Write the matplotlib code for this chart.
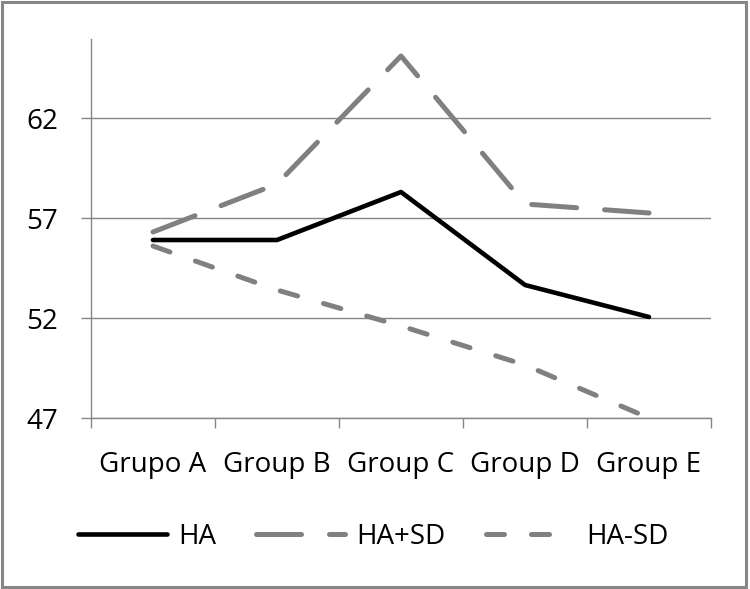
import matplotlib.pyplot as plt
from matplotlib.patches import Rectangle

groups = ["Grupo A", "Group B", "Group C", "Group D", "Group E"]
ha = [55.9, 55.9, 58.3, 53.65, 52.05]
ha_plus_sd = [56.3, 58.7, 65.1, 57.7, 57.25]
ha_minus_sd = [55.6, 53.4, 51.6, 49.65, 47.0]
y_ticks = [47, 52, 57, 62]

plt.rcParams["font.family"] = ["Open Sans", "DejaVu Sans"]

grey = "#868686"
line_grey = "#808080"

fig = plt.figure(figsize=(7.5, 5.89), dpi=100)
ax = fig.add_axes([91 / 750, 1 - 418 / 589, 620 / 750, 379 / 589])

x = list(range(len(groups)))
ax.plot(x, ha, color="black", linewidth=3.3, solid_capstyle="round",
        solid_joinstyle="round", label="HA", zorder=3)
ax.plot(x, ha_plus_sd, color=line_grey, linewidth=3.6, dashes=(9, 5.6),
        dash_capstyle="round", label="HA+SD", zorder=2)
ax.plot(x, ha_minus_sd, color=line_grey, linewidth=3.6, dashes=(3.6, 5.4),
        dash_capstyle="round", label="HA-SD", zorder=2)

ax.set_xlim(-0.5, len(groups) - 0.5)
ax.set_ylim(47, 65.95)
ax.set_yticks(y_ticks)
ax.set_xticks(x)
ax.set_xticklabels(groups)
ax.set_xticks([i - 0.5 for i in range(len(groups) + 1)], minor=True)

ax.grid(axis="y", color=grey, linewidth=1.0, zorder=0)
ax.tick_params(axis="y", which="major", length=7.5, width=1.0, color=grey,
               direction="out", labelsize=20, pad=16)
ax.tick_params(axis="x", which="major", length=0, labelsize=20, pad=24)
ax.tick_params(axis="x", which="minor", length=7.5, width=1.0, color=grey,
               direction="out")

for side in ["top", "right"]:
    ax.spines[side].set_visible(False)
for side in ["left", "bottom"]:
    ax.spines[side].set_color(grey)
    ax.spines[side].set_linewidth(1.0)

fig.legend(loc="center left", bbox_to_anchor=(78 / 750, 1 - 537 / 589),
           ncol=3, frameon=False, fontsize=20, handlelength=3.2,
           handletextpad=0.4, columnspacing=1.45, borderpad=0,
           borderaxespad=0)

fig.patches.append(Rectangle((0.003, 0.003), 0.992, 0.993,
                             transform=fig.transFigure, fill=False,
                             edgecolor=grey, linewidth=2.2))

fig.savefig("out.png", dpi=100)
